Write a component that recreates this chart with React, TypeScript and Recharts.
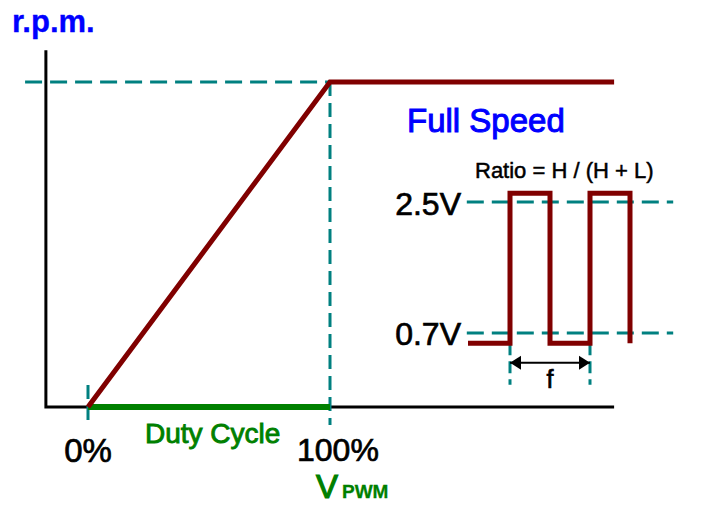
import { ComposedChart, Line, XAxis, YAxis } from 'recharts'

const W = 709
const H = 506

// fan speed vs PWM duty (percent / percent of full speed)
const rampDuty = [0, 100, 217.4]
const rampRpm = [0, 100, 100]
const dutyBar = [0, 100]

// PWM waveform, time in periods, level in volts
const waveT = [-0.525, 0, 0, 0.5, 0.5, 1, 1, 1.5, 1.5]
const waveV = [0.56, 0.56, 2.62, 2.62, 0.56, 0.56, 2.62, 2.62, 0.56]
const levels = [2.5, 0.7]
const levelSpan = [-0.54, 2.04]
const periodMarks = [0, 1]
const arrowV = 0.29

// axis frame in duty / rpm units
const frameDuty = [-17.4, -17.4, 217.4]
const frameRpm = [109.8, 0, 0]

const TEAL = '#008080'
const RED = '#800000'
const GREEN = '#008000'
const BLUE = '#0000ff'
const FONT = '"Liberation Sans", Arial, sans-serif'

// domain that puts value v0 at pixel p0 and v1 at p1, across pixels lo..hi
const span = (p0: number, v0: number, p1: number, v1: number, lo: number, hi: number) => {
  const k = (v1 - v0) / (p1 - p0)
  const a = v0 + (lo - p0) * k
  const b = v0 + (hi - p0) * k
  return [Math.min(a, b), Math.max(a, b)]
}

const dutyDomain = span(88, 0, 330, 100, 0, W)
const rpmDomain = span(407, 0, 82, 100, H, 0)
const timeDomain = span(510, 0, 590, 1, 0, W)
const voltDomain = span(333, 0.7, 202, 2.5, H, 0)

const zip = (xs: number[], ys: number[]) => xs.map((x, i) => ({ x, y: ys[i] }))

const ramp = zip(rampDuty, rampRpm)
const frame = zip(frameDuty, frameRpm)
const green = zip(dutyBar, [0, 0])
const topGuide = [{ x: -26, y: 100 }, { x: 100, y: 100 }]
const fullGuide = [{ x: 100, y: 100 }, { x: 100, y: -5.5 }]
const zeroGuide = [{ x: 0, y: 6.8 }, { x: 0, y: -5.5 }]
const wave = zip(waveT, waveV)
const arrow = zip(periodMarks, [arrowV, arrowV])

const Arrowhead = (props: any) => {
  const { cx, cy, index } = props
  const dir = index === 0 ? 1 : -1
  return (
    <polygon
      key={`ah-${index}`}
      points={`${cx},${cy} ${cx + dir * 11},${cy - 7} ${cx + dir * 11},${cy + 7}`}
      fill="#000"
    />
  )
}

const line = (
  key: string,
  data: { x: number; y: number }[],
  stroke: string,
  width: number,
  xId: string,
  yId: string,
  dash?: string,
) => (
  <Line
    key={key}
    data={data}
    dataKey="y"
    xAxisId={xId}
    yAxisId={yId}
    type="linear"
    stroke={stroke}
    strokeWidth={width}
    strokeDasharray={dash}
    dot={false}
    activeDot={false}
    isAnimationActive={false}
  />
)

// heavier text, like the original drawing
const T = (p: any) => (
  <text stroke={p.fill} strokeWidth={p.sw ?? 0.7} {...p}>
    {p.children}
  </text>
)

export default function App() {
  return (
    <div style={{ position: 'absolute', left: 0, top: 0, width: W, height: H, background: '#fff' }}>
      <ComposedChart width={W} height={H} margin={{ top: 0, right: 0, bottom: 0, left: 0 }}>
        <XAxis xAxisId="duty" dataKey="x" type="number" domain={dutyDomain} allowDataOverflow hide />
        <XAxis xAxisId="t" dataKey="x" type="number" domain={timeDomain} allowDataOverflow hide />
        <YAxis yAxisId="rpm" type="number" domain={rpmDomain} allowDataOverflow hide />
        <YAxis yAxisId="volt" type="number" domain={voltDomain} allowDataOverflow hide />

        {line('frame', frame, '#000', 3, 'duty', 'rpm')}
        {line('top', topGuide, TEAL, 3, 'duty', 'rpm', '17 8')}
        {line('full', fullGuide, TEAL, 3, 'duty', 'rpm', '14 7')}
        {line('zero', zeroGuide, TEAL, 3, 'duty', 'rpm', '14 7')}
        {line('green', green, GREEN, 6, 'duty', 'rpm')}
        {line('ramp', ramp, RED, 5, 'duty', 'rpm')}

        {levels.map(v =>
          line(`lv${v}`, levelSpan.map(x => ({ x, y: v })), TEAL, 3, 't', 'volt', '17 8'),
        )}
        {periodMarks.map(t =>
          line(`pm${t}`, [{ x: t, y: 0.56 }, { x: t, y: -0.01 }], TEAL, 3, 't', 'volt', '12 6'),
        )}
        {line('wave', wave, RED, 5, 't', 'volt')}
        <Line
          data={arrow}
          dataKey="y"
          xAxisId="t"
          yAxisId="volt"
          type="linear"
          stroke="#000"
          strokeWidth={2}
          dot={Arrowhead}
          activeDot={false}
          isAnimationActive={false}
        />

        <g fontFamily={FONT}>
          <T x={12} y={32} fontSize={31} fontWeight="bold" fill={BLUE} sw={0.3}>r.p.m.</T>
          <T x={407} y={132} fontSize={33} fill={BLUE} sw={1}>Full Speed</T>
          <T x={475} y={178} fontSize={22} fill="#000" sw={0.5}>Ratio = H / (H + L)</T>
          <T x={461} y={215} fontSize={32} textAnchor="end" fill="#000">2.5V</T>
          <T x={461} y={345} fontSize={32} textAnchor="end" fill="#000">0.7V</T>
          <T x={550} y={388} fontSize={25} textAnchor="middle" fill="#000">f</T>
          <T x={88} y={462} fontSize={33} textAnchor="middle" fill="#000">0%</T>
          <T x={297} y={461} fontSize={32} fill="#000">100%</T>
          <T x={145} y={443} fontSize={28} fill={GREEN} sw={0.9}>Duty Cycle</T>
          <T x={316} y={498} fontSize={33} fill={GREEN} sw={1.2}>V</T>
          <T x={342} y={498} fontSize={19} fontWeight="bold" fill={GREEN} sw={0.3}>PWM</T>
        </g>
      </ComposedChart>
    </div>
  )
}
